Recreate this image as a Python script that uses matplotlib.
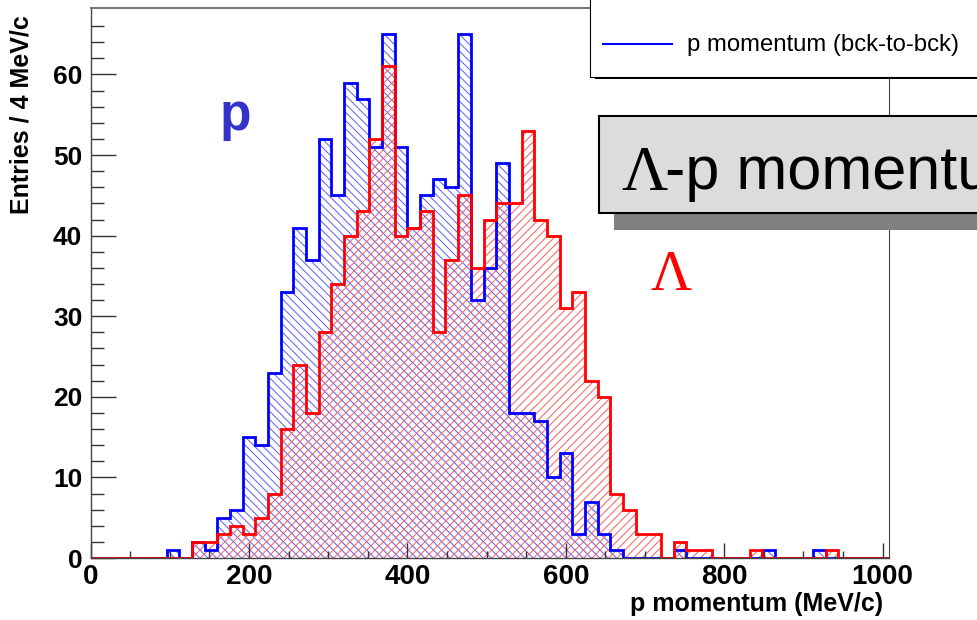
import numpy as np
import matplotlib
matplotlib.use("Agg")
import matplotlib.pyplot as plt
from matplotlib.patches import Rectangle

# 63 bins of 16 MeV/c from 0 to 1008
bin_width = 16
edges = np.arange(0, 64) * bin_width

# back-to-back proton momentum (blue)
p_counts = [0, 0, 0, 0, 0, 0, 1, 0, 2, 1,
            5, 6, 15, 14, 23, 33, 41, 37, 52, 45,
            59, 57, 51, 65, 51, 41, 45, 47, 46, 65,
            32, 36, 49, 18, 18, 17, 10, 13, 3, 7,
            3, 1, 0, 0, 0, 0, 1, 0, 0, 0,
            0, 0, 0, 1, 0, 0, 0, 1, 0, 0,
            0, 0, 0]
# Lambda momentum (red)
lam_counts = [0, 0, 0, 0, 0, 0, 0, 0, 2, 2,
              3, 4, 3, 5, 8, 16, 24, 18, 28, 34,
              40, 43, 52, 61, 40, 41, 43, 28, 37, 45,
              36, 42, 44, 44, 53, 42, 40, 31, 33, 22,
              20, 8, 6, 3, 3, 0, 2, 1, 1, 0,
              0, 0, 1, 0, 0, 0, 0, 0, 1, 0,
              0, 0, 0]

x_ticks = [0, 200, 400, 600, 800, 1000]
y_ticks = [0, 10, 20, 30, 40, 50, 60]

plt.rcParams['font.family'] = ['Liberation Sans Narrow', 'Liberation Sans', 'DejaVu Sans']
plt.rcParams['hatch.linewidth'] = 0.7

W, H = 978, 620
fig = plt.figure(figsize=(W / 100, H / 100), dpi=100)
ax = fig.add_axes([90.7 / W, 1 - 558 / H, (889 - 90.7) / W, (558 - 8) / H])

# hatched fills, then outlines (red drawn on top)
ax.stairs(p_counts, edges, fill=True, facecolor='none', edgecolor='#5a5aff',
          hatch='\\\\\\\\', linewidth=0)
ax.stairs(lam_counts, edges, fill=True, facecolor='none', edgecolor='#ff5a5a',
          hatch='////', linewidth=0)
ax.stairs(p_counts, edges, baseline=0, color='#0000ff', linewidth=2)
ax.stairs(lam_counts, edges, baseline=0, color='#ff0000', linewidth=2)

ax.set_xlim(0, 1008)
ax.set_ylim(0, 68.25)
ax.set_xticks(x_ticks)
ax.set_xticks(np.arange(0, 1001, 50), minor=True)
ax.set_yticks(y_ticks)
ax.set_yticks(np.arange(0, 67, 2), minor=True)
ax.tick_params(axis='both', which='both', direction='in', colors='#333333',
               labelcolor='black', width=1)
ax.tick_params(axis='x', which='major', length=11, pad=4, labelsize=20)
ax.tick_params(axis='x', which='minor', length=5)
ax.tick_params(axis='y', which='major', length=18, pad=6, labelsize=19)
ax.tick_params(axis='y', which='minor', length=9.5)
for lab in ax.get_xticklabels() + ax.get_yticklabels():
    lab.set_fontweight('bold')
for side in ['left', 'bottom']:
    ax.spines[side].set_color('#444444')
    ax.spines[side].set_linewidth(1)
ax.spines['top'].set_color('#777777')
ax.spines['top'].set_linewidth(1.5)
ax.spines['right'].set_color('#444444')
ax.spines['right'].set_linewidth(0.8)

# overlay in pixel coordinates for ROOT-style boxes and labels
ov = fig.add_axes([0, 0, 1, 1])
ov.set_xlim(0, W)
ov.set_ylim(H, 0)
ov.axis('off')
ov.patch.set_visible(False)

# legend box with shadow
ov.add_patch(Rectangle((595, -10), 400, 89, facecolor='black', edgecolor='none'))
ov.add_patch(Rectangle((590, -10), 400, 86.7, facecolor='white', edgecolor='black', linewidth=0.8))
ov.plot([603, 672], [44, 44], color='#0000ff', linewidth=1.5)
ov.text(687, 45, 'p momentum (bck-to-bck)', fontsize=17.2, family='Liberation Sans',
        va='center', ha='left')

# title box with shadow
ov.add_patch(Rectangle((614, 130), 400, 100, facecolor='#808080', edgecolor='none'))
ov.add_patch(Rectangle((599, 116), 400, 97, facecolor='#dcdcdc', edgecolor='black', linewidth=1.5))
ov.text(621, 189.5, '\u039b', fontsize=46, family='Liberation Serif', va='baseline', ha='left')
ov.text(665, 189.5, '-p momentum (bck-to-bck)', fontsize=44, family='Liberation Sans',
        va='baseline', ha='left')

# particle labels
ov.text(235, 130, 'p', fontsize=37, fontweight='bold', color='#3333cc',
        va='baseline', ha='center')
ov.text(671.5, 290.5, '\u039b', fontsize=41, family='Liberation Serif', color='#ff0000',
        va='baseline', ha='center')

# axis titles
ov.text(22, 15, 'Entries / 4 MeV/c', rotation=90, fontsize=18, fontweight='bold',
        va='top', ha='center')
ov.text(883, 604, 'p momentum (MeV/c)', fontsize=18, fontweight='bold',
        va='center', ha='right')

fig.savefig('out.png', dpi=100)
